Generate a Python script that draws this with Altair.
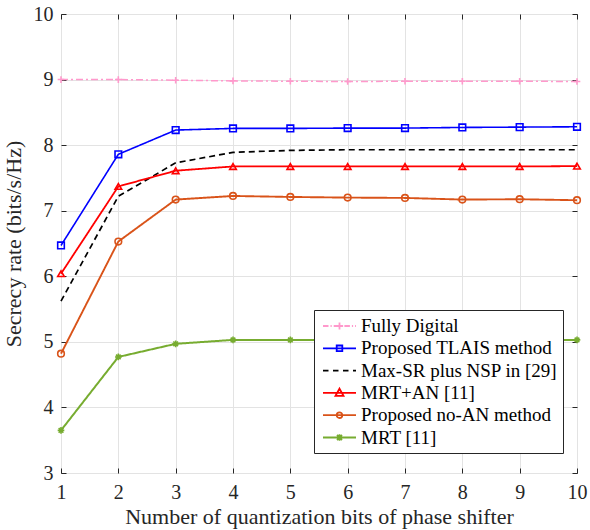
import altair as alt
import pandas as pd

bits = list(range(1, 11))
methods = [
    "Fully Digital",
    "Proposed TLAIS method",
    "Max-SR plus NSP in [29]",
    "MRT+AN [11]",
    "Proposed no-AN method",
    "MRT [11]",
]
fully_digital = [9.00, 9.00, 8.99, 8.98, 8.975, 8.97, 8.975, 8.975, 8.975, 8.97]
tlais = [6.47, 7.86, 8.23, 8.255, 8.255, 8.26, 8.26, 8.27, 8.275, 8.28]
maxsr_nsp = [5.62, 7.22, 7.73, 7.89, 7.92, 7.93, 7.93, 7.93, 7.93, 7.93]
mrt_an = [6.04, 7.37, 7.61, 7.675, 7.675, 7.675, 7.675, 7.675, 7.675, 7.68]
no_an = [4.82, 6.53, 7.17, 7.225, 7.21, 7.20, 7.195, 7.17, 7.175, 7.16]
mrt = [3.65, 4.77, 4.97, 5.03, 5.03, 5.03, 5.03, 5.03, 5.03, 5.03]
series = [fully_digital, tlais, maxsr_nsp, mrt_an, no_an, mrt]
y_ticks = [3, 4, 5, 6, 7, 8, 9, 10]

colors = ["#FF99CC", "#0000FF", "#000000", "#FF0000", "#D95319", "#77AC30"]
dashes = [[7, 3, 2, 3], [1, 0], [6, 4], [1, 0], [1, 0], [1, 0]]
widths = [1.5, 2, 2, 2, 2, 2]

# marker shapes in the plot
plus_path = "M-1,0L1,0M0,-1L0,1"
star_path = "M-1,0L1,0M0,-1L0,1M-0.7,-0.7L0.7,0.7M-0.7,0.7L0.7,-0.7"
plot_shapes = [plus_path, "square", "circle", "triangle-up", "circle", star_path]


def seg(a, b):
    return f"M{a:.2f},0L{b:.2f},0"


L0, L1, C = -0.7, 2.6, 0.95


def solid():
    return seg(L0, L1)


def dashed(d, g):
    out, x = "", L0
    while x < L1:
        out += seg(x, min(x + d, L1))
        x += d + g
    return out


def dashdot():
    out, x, k = "", L0, 0
    pat = [0.55, 0.2, 0.12, 0.2]
    while x < L1:
        ln = pat[k % 4]
        if k % 2 == 0:
            out += seg(x, min(x + ln, L1))
        x += ln
        k += 1
    return out


r = 0.36
leg_plus = f"M{C-r:.2f},0L{C+r:.2f},0M{C:.2f},{-r:.2f}L{C:.2f},{r:.2f}"
leg_square = f"M{C-0.28:.2f},-0.28L{C+0.28:.2f},-0.28L{C+0.28:.2f},0.28L{C-0.28:.2f},0.28Z"
leg_tri = f"M{C:.2f},-0.42L{C+0.4:.2f},0.3L{C-0.4:.2f},0.3Z"
leg_circ = f"M{C-0.28:.2f},0A0.28,0.28 0 1,0 {C+0.28:.2f},0A0.28,0.28 0 1,0 {C-0.28:.2f},0Z"
a = 0.25
leg_star = (f"M{C-0.32:.2f},0L{C+0.32:.2f},0M{C:.2f},-0.32L{C:.2f},0.32"
            f"M{C-a:.2f},{-a}L{C+a:.2f},{a}M{C-a:.2f},{a}L{C+a:.2f},{-a}")
legend_shapes = [
    dashdot() + leg_plus,
    solid() + leg_square,
    dashed(0.55, 0.45),
    solid() + leg_tri,
    solid() + leg_circ,
    solid() + leg_star,
]

rows = []
for m, vals in zip(methods, series):
    for b, v in zip(bits, vals):
        rows.append({"bits": b, "rate": v, "method": m})
df = pd.DataFrame(rows)

FONT = "Liberation Serif"
TXT = "#262626"
xscale = alt.Scale(domain=[1, 10], nice=False)
yscale = alt.Scale(domain=[3, 10], nice=False, zero=False)


def cscale():
    return alt.Scale(domain=methods, range=colors)


common_axis = dict(
    domain=False, tickSize=5, offset=-5, tickColor=TXT, tickWidth=1,
    labelFont=FONT, labelFontSize=20, labelColor=TXT, labelFlush=False,
    titleFont=FONT, titleFontSize=22, titleColor=TXT, titleFontWeight="normal",
    gridColor="#E3E3E3", gridWidth=1,
)

lines = alt.Chart(df).mark_line().encode(
    x=alt.X("bits:Q", scale=xscale, axis=alt.Axis(
        values=bits, title="Number of quantization bits of phase shifter",
        grid=True, labelPadding=9, titlePadding=4, **common_axis)),
    y=alt.Y("rate:Q", scale=yscale, axis=alt.Axis(
        values=y_ticks, title="Secrecy rate (bits/s/Hz)",
        grid=True, labelPadding=8, titlePadding=8, **common_axis)),
    color=alt.Color("method:N", scale=cscale(), legend=None),
    strokeDash=alt.StrokeDash("method:N", scale=alt.Scale(domain=methods, range=dashes), legend=None),
    strokeWidth=alt.StrokeWidth("method:N", scale=alt.Scale(domain=methods, range=widths), legend=None),
)

points = alt.Chart(df).transform_filter(
    alt.datum.method != methods[2]
).mark_point(filled=False, opacity=1, strokeWidth=1.6, size=44).encode(
    x=alt.X("bits:Q", scale=xscale, axis=None),
    y=alt.Y("rate:Q", scale=yscale, axis=None),
    color=alt.Color("method:N", scale=cscale(), legend=None),
    shape=alt.Shape("method:N", scale=alt.Scale(domain=methods, range=plot_shapes), legend=None),
)

leg_cfg = dict(
    title=None, orient="none", legendX=253, legendY=296, symbolSize=400,
    labelFont=FONT, labelFontSize=19, labelColor="#000000", labelOffset=20,
    labelLimit=400, rowPadding=1.3, padding=5, strokeColor=TXT, fillColor="#FFFFFF",
    symbolStrokeWidth=1.8, symbolOpacity=1, cornerRadius=0,
)

legend_layer = alt.Chart(df).transform_filter("false").mark_point(
    filled=False, opacity=1, strokeWidth=1.8
).encode(
    x=alt.X("bits:Q", scale=xscale, axis=alt.Axis(
        orient="top", values=bits, labels=False, title=None, grid=False,
        **common_axis)),
    y=alt.Y("rate:Q", scale=yscale, axis=alt.Axis(
        orient="right", values=y_ticks, labels=False, title=None, grid=False,
        **common_axis)),
    color=alt.Color("method:N", scale=cscale(), legend=alt.Legend(**leg_cfg)),
    shape=alt.Shape("method:N", scale=alt.Scale(domain=methods, range=legend_shapes),
                    legend=alt.Legend(**leg_cfg)),
)

chart = alt.layer(lines, points, legend_layer).resolve_scale(
    shape="independent", color="independent"
).resolve_axis(
    x="independent", y="independent"
).properties(
    width=516, height=459,
    autosize=alt.AutoSizeParams(type="none"),
    padding={"left": 61, "top": 14, "right": 13, "bottom": 57},
    background="#FFFFFF",
).configure(font=FONT).configure_view(stroke=TXT, strokeWidth=1)

chart.save("out.html", embed_options={"renderer": "svg", "actions": False})
